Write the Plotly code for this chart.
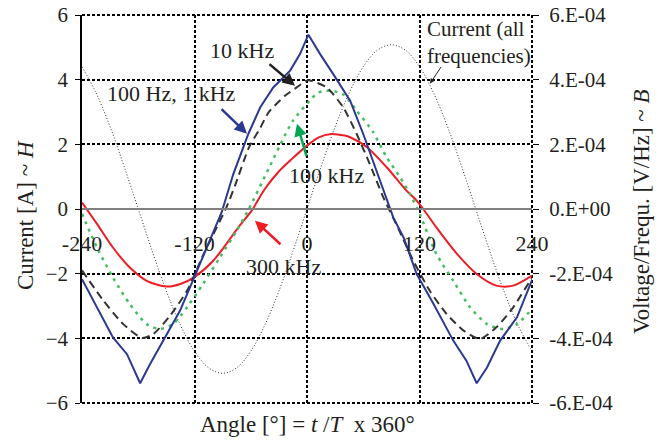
import plotly.graph_objects as go

# ---------------- data ----------------
x_ticks = [-240, -120, 0, 120, 240]
x_ticktext = ["-240", "-120", "0", "120", "240"]
y_ticks = [-6, -4, -2, 0, 2, 4, 6]
y2_ticks = [-6e-4, -4e-4, -2e-4, 0.0, 2e-4, 4e-4, 6e-4]
y2_ticktext = ["-6.E-04", "-4.E-04", "-2.E-04", "0.E+00", "2.E-04", "4.E-04", "6.E-04"]

# 100 Hz, 1 kHz (blue)
blue_angle = [-240, -224, -207, -192, -185, -178, -167.5, -153, -135.5, -119.5, -107, -91,
              -78.6, -62.6, -50, -36, -18, -7.5, 1.5, 14, 28, 46, 60, 74, 85, 92, 103,
              117, 135, 156, 170, 181, 192, 206, 224, 240]
blue_val = [-2.17, -3.04, -3.97, -4.49, -4.92, -5.39, -4.80, -4.07, -3.15, -2.06, -1.19, -0.10,
            1.08, 2.32, 3.14, 3.76, 4.28, 4.79, 5.39, 4.79, 4.17, 3.35, 2.32, 1.19, 0.26, -0.26, -0.88,
            -2.01, -2.94, -4.07, -4.69, -5.39, -4.90, -4.07, -3.35, -2.20]

# 10 kHz (black dashed)
k10_angle = [-240, -217, -196, -176, -164, -146, -128, -119.5, -112, -86, -76.8, -62, -50,
             -41, -23.5, -11, 1, 21, 38.7, 53, 67, 81.4, 95.7, 113.4, 131, 149, 167, 184.5,
             202, 220, 238, 240]
k10_val = [-1.90, -2.84, -3.56, -3.99, -3.87, -3.30, -2.53, -2.01, -1.50, 0.05, 0.72, 1.90, 2.50,
           2.99, 3.50, 3.76, 3.98, 3.76, 3.14, 2.32, 1.39, 0.36, -0.50, -1.60, -2.53, -3.25, -3.76, -4.02,
           -3.66, -3.04, -2.22, -2.15]

# 100 kHz (green dotted)
k100_angle = [-240, -224, -207, -189, -171, -157, -143, -128, -111, -93, -75, -63, -41, -29,
              -15, 3, 12, 24.5, 38.7, 53, 70, 85, 100, 110, 118.7, 138, 156, 174, 192, 209,
              224, 240]
k100_val = [-0.15, -1.19, -2.12, -2.94, -3.56, -3.71, -3.56, -3.04, -2.32, -1.50, -0.67, -0.05, 1.24, 1.96,
            2.73, 3.35, 3.60, 3.66, 3.54, 3.04, 2.40, 1.60, 0.95, 0.46, -0.05, -1.39, -2.22, -3.04, -3.56, -3.71,
            -3.56, -3.09]

# 300 kHz (red)
k300_angle = [-240, -224, -207, -189, -171, -150, -135, -121, -100, -72, -59, -45, -31, -16,
              0, 12, 26, 40, 46, 64, 85, 106, 117, 124, 138, 160, 181, 202, 220, 240]
k300_val = [0.20, -0.46, -1.19, -1.81, -2.22, -2.40, -2.32, -2.12, -1.60, -0.52, -0.05, 0.62, 1.13, 1.55,
            1.96, 2.21, 2.32, 2.27, 2.22, 1.91, 1.29, 0.57, 0.26, 0.0, -0.57, -1.39, -2.01, -2.37, -2.37, -2.06]

# Current (all frequencies), thin dotted
cur_angle = [-240, -225, -210, -195, -180, -165, -150, -135, -120, -105, -90, -75, -60, -45, -30,
             -15, 0, 15, 30, 45, 60, 75, 90, 105, 120, 135, 150, 165, 180, 195, 210, 225, 240]
cur_val = [4.40, 3.59, 2.54, 1.31, 0.0, -1.31, -2.54, -3.59, -4.40, -4.91, -5.08, -4.91, -4.40, -3.59, -2.54,
           -1.31, 0.0, 1.31, 2.54, 3.59, 4.40, 4.91, 5.08, 4.91, 4.40, 3.59, 2.54, 1.31, 0.0, -1.31, -2.54, -3.59, -4.40]

FONT = "Liberation Serif"
GRID_DASH = "3px,2px"

fig = go.Figure()
fig.add_trace(go.Scatter(x=cur_angle, y=cur_val, mode="lines",
                         line=dict(color="#333333", width=1, dash="1px,2px", shape="spline", smoothing=1),
                         showlegend=False, hoverinfo="skip"))
fig.add_trace(go.Scatter(x=k300_angle, y=k300_val, mode="lines",
                         line=dict(color="#EE1C25", width=2, shape="spline", smoothing=0.8),
                         showlegend=False))
fig.add_trace(go.Scatter(x=k100_angle, y=k100_val, mode="lines",
                         line=dict(color="#45BE62", width=2.5, dash="3px,5px", shape="spline", smoothing=0.7),
                         showlegend=False))
fig.add_trace(go.Scatter(x=k10_angle, y=k10_val, mode="lines",
                         line=dict(color="#333333", width=2, dash="8px,5px", shape="spline", smoothing=0.6),
                         showlegend=False))
fig.add_trace(go.Scatter(x=blue_angle, y=blue_val, mode="lines",
                         line=dict(color="#2B3990", width=2),
                         showlegend=False))
# invisible trace to activate the right axis
fig.add_trace(go.Scatter(x=[x_ticks[0], x_ticks[-1]], y=[y2_ticks[0], y2_ticks[-1]], yaxis="y2",
                         mode="lines", line=dict(width=0), opacity=0, showlegend=False, hoverinfo="skip"))

fig.update_layout(
    width=672, height=441,
    margin=dict(l=82, r=140, t=15, b=38, autoexpand=False),
    paper_bgcolor="white", plot_bgcolor="white",
    font=dict(family=FONT, size=21, color="#231F20"),
    xaxis=dict(range=[-240, 240], tickvals=x_ticks, ticktext=x_ticktext, automargin=False,
               anchor="free", position=0.5, showline=True, linecolor="#808080", linewidth=1.5,
               ticks="", showgrid=True, gridcolor="black", gridwidth=2, griddash=GRID_DASH,
               zeroline=False, ticklabelstandoff=15, tickfont=dict(size=22)),
    yaxis=dict(range=[-6, 6], tickvals=y_ticks, ticks="outside", ticklen=5, tickcolor="black",
               automargin=False,
               showline=True, linecolor="black", linewidth=1.5, showgrid=True, gridcolor="black",
               gridwidth=2, griddash=GRID_DASH, zeroline=False, ticklabelstandoff=3),
    yaxis2=dict(range=[-6e-4, 6e-4], tickvals=y2_ticks, ticktext=y2_ticktext, overlaying="y",
                automargin=False,
                side="right", ticks="outside", ticklen=6, tickcolor="black", showgrid=False,
                zeroline=False, showline=False, ticklabelstandoff=6),
)

dot = dict(color="black", width=2, dash=GRID_DASH)
fig.add_shape(type="line", xref="paper", yref="paper", x0=0, x1=1, y0=1, y1=1, line=dot, layer="below")
fig.add_shape(type="line", xref="paper", yref="paper", x0=0, x1=1, y0=0, y1=0, line=dot, layer="below")
fig.add_shape(type="line", xref="paper", yref="paper", x0=1, x1=1, y0=0, y1=1, line=dot, layer="below")

tf = dict(family=FONT, size=22, color="#231F20")
# text labels
labels = [
    ("10 kHz", -69.3, 4.9),
    ("100 Hz, 1 kHz", -145, 3.56),
    ("100 kHz", 20.5, 1.03),
    ("300 kHz", -25.6, -1.78),
]
for t, xx, yy in labels:
    fig.add_annotation(x=xx, y=yy, text=t, showarrow=False, font=tf, xanchor="center", yanchor="middle")
fig.add_annotation(x=125.9, y=5.14, text="Current (all<br>frequencies)", showarrow=False,
                   font=dict(family=FONT, size=21, color="#231F20"),
                   xanchor="left", yanchor="middle", align="left")

# arrows
arrows = [
    (-12.8, 3.81, -27, -23, "#231F20", 2.5),
    (-64.0, 2.33, -27, -26, "#2B3990", 2.5),
    (-10.7, 2.64, 10, 34, "#00A651", 2.5),
    (-55.5, -0.36, 27, 25, "#EE1C25", 2.5),
    (131.2, 3.88, 12, -18, "#231F20", 1),
]
for xx, yy, axp, ayp, col, w in arrows:
    fig.add_annotation(x=xx, y=yy, ax=axp, ay=ayp, text="", showarrow=True, arrowhead=2,
                       arrowsize=1, arrowwidth=w, arrowcolor=col, standoff=0)

tt = dict(family=FONT, size=23, color="#231F20")
fig.add_annotation(xref="paper", yref="paper", x=-0.1267, y=0.4845, text="Current [A] ~ <i>H</i>",
                   textangle=-90, showarrow=False, font=tt, xanchor="center", yanchor="middle")
fig.add_annotation(xref="paper", yref="paper", x=1.2444, y=0.495, text="Voltage/Frequ. [V/Hz] ~ <i>B</i>",
                   textangle=-90, showarrow=False, font=tt, xanchor="center", yanchor="middle")
fig.add_annotation(xref="paper", yref="paper", x=0.5, y=-0.0567, text="Angle [°] = <i>t</i> /<i>T</i>  x 360°",
                   showarrow=False, font=tt, xanchor="center", yanchor="middle")

fig.write_html("out.html")
